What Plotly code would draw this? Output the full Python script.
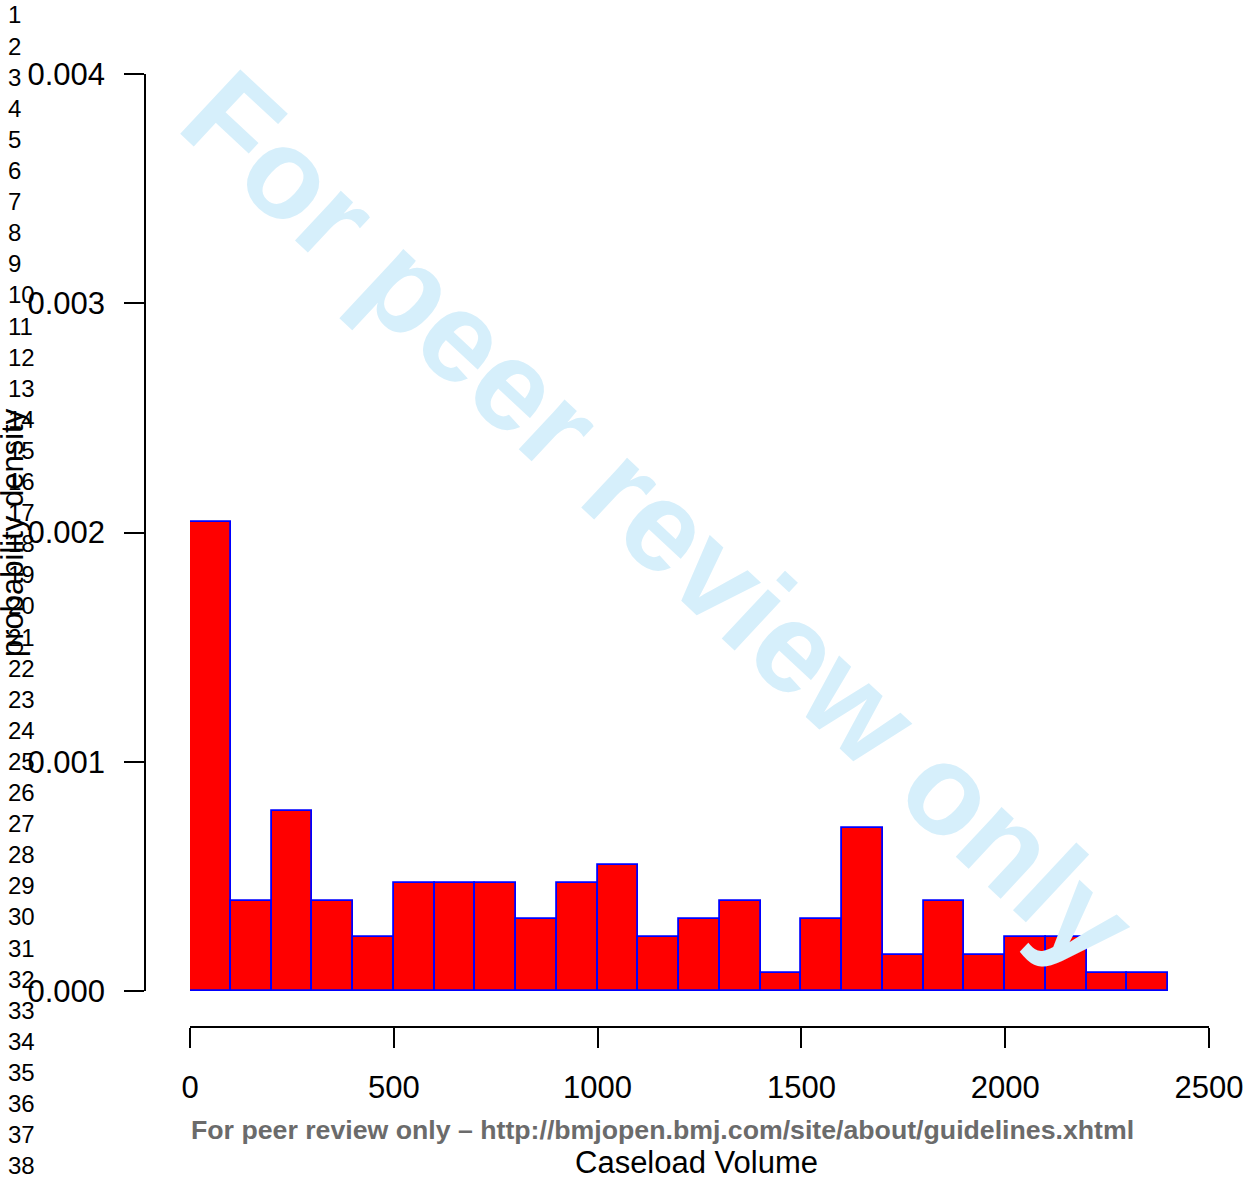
import plotly.graph_objects as go

# ---- data ----
bin_left = [0, 100, 200, 300, 400, 500, 600, 700, 800, 900, 1000, 1100,
            1200, 1300, 1400, 1500, 1600, 1700, 1800, 1900, 2000, 2100, 2200, 2300]
bin_width = 100
density = [0.002047, 0.000394, 0.000787, 0.000394, 0.000236, 0.000472, 0.000472,
           0.000472, 0.000315, 0.000472, 0.000551, 0.000236, 0.000315, 0.000394,
           0.0000787, 0.000315, 0.000709, 0.000157, 0.000394, 0.000157, 0.000236,
           0.000236, 0.0000787, 0.0000787]
x_ticks = [0, 500, 1000, 1500, 2000, 2500]
y_ticks = [0.000, 0.001, 0.002, 0.003, 0.004]
y_tick_text = ["0.000", "0.001", "0.002", "0.003", "0.004"]
line_numbers = list(range(1, 39))

W, H = 1259, 1178
FONT = "Liberation Sans, Arial, Helvetica, sans-serif"

def px(x):
    return x / W

def py(y):
    return 1 - y / H

centers = [b + bin_width / 2 for b in bin_left]

fig = go.Figure()
fig.add_trace(go.Bar(
    x=centers, y=density, width=[bin_width] * len(centers),
    marker=dict(color="#ff0000", line=dict(color="#0000ff", width=1.8)),
    showlegend=False, hoverinfo="skip",
))

x0, x1 = 190, 1209   # pixel for 0 and 2500
y0, y1 = 991, 74     # pixel for 0 and 0.004

fig.update_layout(
    width=W, height=H, autosize=False,
    margin=dict(l=0, r=0, t=0, b=0, pad=0, autoexpand=False),
    paper_bgcolor="white", plot_bgcolor="white",
    bargap=0,
    font=dict(family=FONT, color="black"),
    xaxis=dict(
        domain=[px(x0), px(x1)], range=[0, 2500],
        anchor="free", position=py(1027),
        showline=True, linecolor="black", linewidth=1.5,
        ticks="outside", ticklen=20, tickwidth=1.5, tickcolor="black",
        tickvals=x_ticks, ticktext=[str(v) for v in x_ticks],
        tickfont=dict(size=31, family=FONT, color="black"),
        ticklabelstandoff=13,
        showgrid=False, zeroline=False,
    ),
    yaxis=dict(
        domain=[py(y0), py(y1)], range=[0, 0.004],
        anchor="free", position=px(145),
        showline=True, linecolor="black", linewidth=1.5,
        ticks="outside", ticklen=20, tickwidth=1.5, tickcolor="black",
        tickvals=y_ticks, ticktext=y_tick_text,
        tickfont=dict(size=31, family=FONT, color="black"),
        ticklabelstandoff=13,
        showgrid=False, zeroline=False,
    ),
)

ann = []
# watermark
ann.append(dict(
    x=px(659), y=py(520), xref="paper", yref="paper",
    text="<b>For peer review only</b>", showarrow=False, textangle=43,
    font=dict(size=128, family=FONT, color="#d6effb"),
    xanchor="center", yanchor="middle",
))
# line numbers
for i, n in enumerate(line_numbers):
    ann.append(dict(
        x=px(6), y=py(15 + i * 31.1), xref="paper", yref="paper",
        text=str(n), showarrow=False, xanchor="left", yanchor="middle",
        font=dict(size=24, family=FONT, color="black"),
    ))
# axis titles
ann.append(dict(
    x=px(697), y=py(1162), xref="paper", yref="paper",
    text="Caseload Volume", showarrow=False, xanchor="center", yanchor="middle",
    font=dict(size=31, family=FONT, color="black"),
))
ann.append(dict(
    x=px(12), y=py(533), xref="paper", yref="paper",
    text="probability density", showarrow=False, textangle=-90,
    xanchor="center", yanchor="middle",
    font=dict(size=31, family=FONT, color="black"),
))
# footer
ann.append(dict(
    x=px(662), y=py(1130), xref="paper", yref="paper",
    text="<b>For peer review only \u2013 http://bmjopen.bmj.com/site/about/guidelines.xhtml</b>",
    showarrow=False, xanchor="center", yanchor="middle",
    font=dict(size=26.7, family=FONT, color="#6b6b6b"),
))
fig.update_layout(annotations=ann)

fig.write_html("out.html")
